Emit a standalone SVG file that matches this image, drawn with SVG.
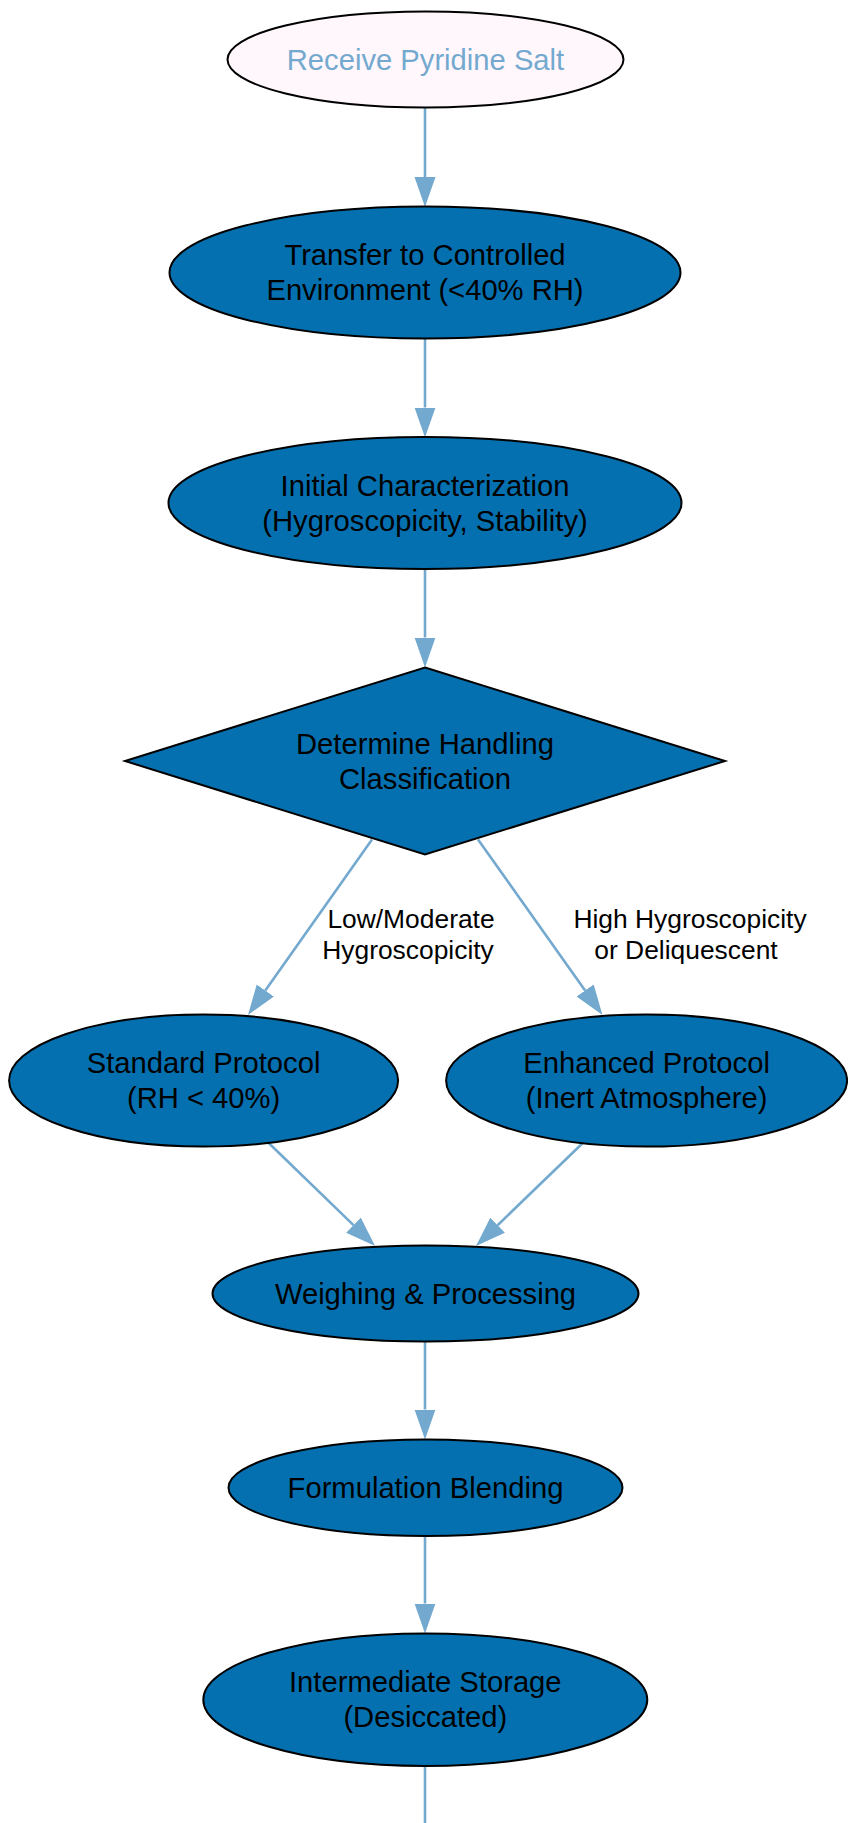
<svg xmlns="http://www.w3.org/2000/svg" width="848" height="1823" viewBox="0 0 848 1823">
<defs>
<style>
.node{fill:#0570b0;stroke:#000;stroke-width:2}
.start{fill:#fff7fb;stroke:#000;stroke-width:2}
.t{font-family:"Liberation Sans",Arial,sans-serif;font-size:29.2px;fill:#000;text-anchor:middle}
.ts{fill:#74a9cf}
.lbl{font-family:"Liberation Sans",Arial,sans-serif;font-size:26.4px;fill:#000;text-anchor:middle}
.edge{fill:none;stroke:#74a9cf;stroke-width:2.6}
</style>
<marker id="ah" markerUnits="userSpaceOnUse" markerWidth="32" markerHeight="24" refX="0" refY="10.5" orient="auto" viewBox="0 0 32 24">
<path d="M0,0 L30,10.5 L0,21 Z" fill="#74a9cf" stroke="none"/>
</marker>
</defs>
<rect width="848" height="1823" fill="#fff"/>
<g id="connectors">
<path class="edge" d="M425,107.5 L425,177" marker-end="url(#ah)"/>
<path class="edge" d="M425,338.5 L425,407.5" marker-end="url(#ah)"/>
<path class="edge" d="M425,569 L425,637.5" marker-end="url(#ah)"/>
<path class="edge" d="M372,839.5 L265.3,990.5" marker-end="url(#ah)"/>
<path class="edge" d="M478,839.5 L585.1,990.5" marker-end="url(#ah)"/>
<path class="edge" d="M268.7,1143 L353.5,1225.1" marker-end="url(#ah)"/>
<path class="edge" d="M582.8,1143 L497.6,1225.2" marker-end="url(#ah)"/>
<path class="edge" d="M425,1341.5 L425,1409.5" marker-end="url(#ah)"/>
<path class="edge" d="M425,1536 L425,1603.5" marker-end="url(#ah)"/>
<path class="edge" d="M425,1766 L425,1830"/>
<text class="lbl" x="411" y="928">Low/Moderate</text>
<text class="lbl" x="408" y="959">Hygroscopicity</text>
<text class="lbl" x="690" y="928">High Hygroscopicity</text>
<text class="lbl" x="686" y="959">or Deliquescent</text>
</g>
<g id="receive">
<ellipse class="start" cx="425.5" cy="59.5" rx="198" ry="48"/>
<text class="t ts" x="425.5" y="70">Receive Pyridine Salt</text>
</g>
<g id="transfer">
<ellipse class="node" cx="425" cy="272.5" rx="255.5" ry="66"/>
<text class="t" x="425" y="265">Transfer to Controlled</text>
<text class="t" x="425" y="300">Environment (&lt;40% RH)</text>
</g>
<g id="initial">
<ellipse class="node" cx="425" cy="503" rx="256.5" ry="66"/>
<text class="t" x="425" y="495.5">Initial Characterization</text>
<text class="t" x="425" y="530.5">(Hygroscopicity, Stability)</text>
</g>
<g id="determine">
<polygon class="node" points="425,667.5 725,761 425,854.5 125,761"/>
<text class="t" x="425" y="753.5">Determine Handling</text>
<text class="t" x="425" y="788.5">Classification</text>
</g>
<g id="standard">
<ellipse class="node" cx="203.6" cy="1080.6" rx="194.5" ry="66"/>
<text class="t" x="203.6" y="1073">Standard Protocol</text>
<text class="t" x="203.6" y="1108">(RH &lt; 40%)</text>
</g>
<g id="enhanced">
<ellipse class="node" cx="646.6" cy="1080.6" rx="200.5" ry="66"/>
<text class="t" x="646.6" y="1073">Enhanced Protocol</text>
<text class="t" x="646.6" y="1108">(Inert Atmosphere)</text>
</g>
<g id="weighing">
<ellipse class="node" cx="425.5" cy="1293.5" rx="213" ry="48"/>
<text class="t" x="425.5" y="1303.5">Weighing &amp; Processing</text>
</g>
<g id="formulation">
<ellipse class="node" cx="425.5" cy="1487.7" rx="197" ry="48.3"/>
<text class="t" x="425.5" y="1497.7">Formulation Blending</text>
</g>
<g id="storage">
<ellipse class="node" cx="425.3" cy="1699.7" rx="222" ry="66.3"/>
<text class="t" x="425.3" y="1692">Intermediate Storage</text>
<text class="t" x="425.3" y="1727">(Desiccated)</text>
</g>
</svg>
